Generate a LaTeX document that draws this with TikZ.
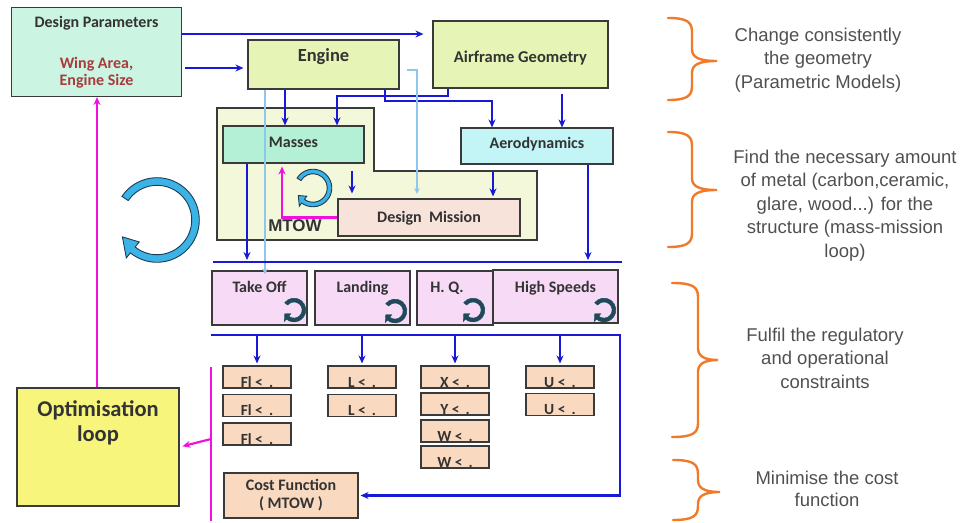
\documentclass[tikz,border=0pt]{standalone}
\usepackage{fontspec}
\setmainfont{Carlito}
\newfontfamily\arialf{Liberation Sans}
\usetikzlibrary{calc,arrows.meta}
\definecolor{bl}{HTML}{1818D8}
\definecolor{lbc}{HTML}{8EC6EE}
\definecolor{mg}{HTML}{F010E0}
\definecolor{og}{HTML}{F07A28}
\definecolor{bd}{HTML}{3A3A3A}
\definecolor{tx}{HTML}{333333}
\definecolor{rt}{HTML}{505050}
\definecolor{wr}{HTML}{A83C3C}
\definecolor{dpc}{HTML}{CBF5E2}
\definecolor{lim}{HTML}{E6F5B6}
\definecolor{msc}{HTML}{B3F0D6}
\definecolor{aec}{HTML}{C3F4F6}
\definecolor{dmc}{HTML}{F7E3DA}
\definecolor{cpc}{HTML}{F6DAF6}
\definecolor{pch}{HTML}{F9D9C0}
\definecolor{yel}{HTML}{F8F57C}
\definecolor{grn}{HTML}{F4F8DA}
\definecolor{cyb}{HTML}{3CB3E6}
\definecolor{dk}{HTML}{1E3C52}
\definecolor{tl}{HTML}{1F4A5A}
\newcommand\cycarrow[7][]{%
  \filldraw[#1] ($(#2)+({#5}:{#3+#4})$) arc[start angle={#5}, end angle={#6}, radius={#3+#4}]
   -- ($(#2)+({#6}:{#3+2.7*#4})$) -- ($(#2)+({#6+#7}:{#3})$) -- ($(#2)+({#6}:{#3-2.7*#4})$)
   -- ($(#2)+({#6}:{#3-#4})$) arc[start angle={#6}, end angle={#5}, radius={#3-#4}] -- cycle;}
\newcommand\mybrace[6]{\draw[bracestyle] (#1,#4) .. controls (#2-5,#4) and (#2,#4+4) .. (#2,#4+14) -- (#2,#5-12) .. controls (#2,#5-4) and (#2+6,#5) .. (#3,#5) .. controls (#2+6,#5) and (#2,#5+4) .. (#2,#5+12) -- (#2,#6-14) .. controls (#2,#6-4) and (#2-5,#6) .. (#1,#6);}
\begin{document}
\begin{tikzpicture}[x=1pt,y=-1pt,
  box/.style={draw=bd, line width=1.1pt, inner sep=0pt, text=tx, font=\bfseries\fontsize{16}{17}\selectfont, align=center},
  sbox/.style={box, fill=pch, minimum width=68pt, text height=21pt, text depth=1pt, font=\bfseries\fontsize{15.5}{15}\selectfont},
  cbox/.style={box, fill=cpc, text height=21pt, text depth=33pt},
  ba/.style={draw=bl, line width=2.4pt, -{Stealth[length=8pt,width=7pt]}},
  bline/.style={draw=bl, line width=2.6pt},
  lba/.style={draw=lbc, line width=2pt, -{Stealth[length=6pt,width=5.5pt]}},
  ma/.style={draw=mg, line width=2.2pt, -{Stealth[length=8pt,width=7pt]}},
  ml/.style={draw=mg, line width=2.2pt},
  bracestyle/.style={draw=og, line width=2.4pt, line cap=round},
  rtext/.style={font=\arialf\fontsize{18.5}{23.5}\selectfont, text=rt, align=center},
  bigloop/.style={fill=cyb, draw=dk, line width=0.9pt},
  tloop/.style={fill=tl, draw=tl, line width=0.4pt}]
\useasboundingbox (0,0) rectangle (966,522);
% green mass-mission region
\draw[draw=bd, fill=grn, line width=1.1pt] (217,108) -- (374,108) -- (374,171) -- (537,171) -- (537,240) -- (217,240) -- cycle;
% main boxes
\node[box, fill=dpc, minimum width=170pt, minimum height=89pt] (dp) at (96.5,52) {Design Parameters\\[24pt]{\color{wr}Wing Area,}\\{\color{wr}Engine Size}};
\node[box, fill=lim, minimum width=151pt, text height=21pt, text depth=28pt, font=\bfseries\fontsize{18.5}{18}\selectfont] (engine) at (323.5,64.5) {Engine};
\node[box, fill=lim, minimum width=175pt, text height=41pt, text depth=26pt, font=\bfseries\fontsize{16.5}{18}\selectfont] (airframe) at (520.5,54.5) {Airframe Geometry};
\node[box, fill=msc, minimum width=141pt, text height=21pt, text depth=16pt] (masses) at (293.5,144.5) {Masses};
\node[box, fill=aec, minimum width=152pt, text height=20pt, text depth=16pt] (aero) at (537,146) {Aerodynamics};
\node[box, fill=dmc, minimum width=182pt, text height=23pt, text depth=14pt] (dm) at (429,217.5) {Design\ \ Mission};
\node[font=\bfseries\arialf\fontsize{17}{17}\selectfont, text=tx] (mtow) at (295,226) {MTOW};
% constraint category boxes
\node[cbox, minimum width=95pt] (takeoff) at (259.5,298) {Take Off};
\node[cbox, minimum width=95pt] (landing) at (362.5,298) {Landing};
\node[cbox, minimum width=76pt] (hq) at (455,298) {H. Q.\hspace{16pt}};
\node[cbox, minimum width=125pt, text height=22pt, text depth=31pt] (hs) at (555.5,296.5) {High Speeds};
% small constraint boxes
\node[sbox] (c11) at (257,377) {Fl <\ \,.};
\node[sbox] (c12) at (257,405.5) {Fl <\ \,.};
\node[sbox] (c13) at (257,434) {Fl <\ \,.};
\node[sbox] (c21) at (362,377) {L <\ \,.};
\node[sbox] (c22) at (362,405.5) {L <\ \,.};
\node[sbox] (c31) at (455,377) {X <\ \,.};
\node[sbox] (c32) at (455,404) {Y <\ \,.};
\node[sbox] (c33) at (455,431) {W <\ \,.};
\node[sbox] (c34) at (455,457) {W <\ \,.};
\node[sbox] (c41) at (560,377) {U <\ \,.};
\node[sbox] (c42) at (560,404.5) {U <\ \,.};
\node[box, fill=pch, minimum width=134pt, minimum height=45pt, font=\bfseries\fontsize{16}{18}\selectfont] (cost) at (291,495.5) {Cost Function\\( MTOW )};
% optimisation loop
\node[box, fill=yel, minimum width=162pt, minimum height=118pt] (opt) at (98,447) {};
\node[font=\bfseries\fontsize{22.5}{25}\selectfont, text=tx, align=center] (optt) at (98,423) {Optimisation\\loop};
% loop icons
\cycarrow[bigloop]{157,220}{38.5}{3.8}{214}{489}{25}
\cycarrow[bigloop]{313,188}{16.5}{2.3}{212}{487}{26}
\cycarrow[tloop]{294,310}{10}{1.9}{218}{490}{28}
\cycarrow[tloop]{395,311}{10}{1.9}{218}{490}{28}
\cycarrow[tloop]{473,310}{10}{1.9}{218}{490}{28}
\cycarrow[tloop]{604,310}{10}{1.9}{218}{490}{28}
% connectors
\draw[ba, shorten >=9pt] ([yshift=18pt]dp.east) -- ([yshift=18pt]dp.east -| airframe.west);
\draw[ba, shorten <=3pt, shorten >=4pt] ([yshift=-16pt]dp.east) -- ([yshift=-16pt]dp.east -| engine.west);
\draw[ba] (engine.south -| 285,0) -- (masses.north -| 285,0);
\draw[ba] (airframe.south -| 448,0) -- (448,96) -- (337,96) -- (masses.north -| 337,0);
\draw[ba] (engine.south -| 385,0) -- (385,101) -- (492,101) -- (aero.north -| 492,0);
\draw[ba, shorten <=5pt] (airframe.south -| 562,0) -- (aero.north -| 562,0);
\draw[lba] (engine.south -| 265,0) -- ([yshift=-4pt]takeoff.north -| 265,0);
\coordinate (lbs) at (407,70);
\draw[lba] (lbs) -- (417,70) -- (417,194);
\draw[ba, shorten <=7pt, shorten >=5pt] (masses.south -| 352,0) -- (dm.north -| 352,0);
\draw[ba, shorten <=7pt, shorten >=2pt] (aero.south -| 493,0) -- (dm.north -| 493,0);
\draw[ma, shorten >=3pt] (dm.west) -- (dm.west -| 282,0) -- (masses.south -| 282,0);
\coordinate (b1w) at (213,262);
\coordinate (b1e) at (622,262);
\draw[bline] (b1w) -- (b1e);
\draw[ba, shorten >=2pt] (masses.south -| 247,0) -- (b1w -| 247,0);
\draw[ba, shorten >=2pt] (aero.south -| 588,0) -- (b1w -| 588,0);
\coordinate (b2w) at (211,335);
\coordinate (b2e) at (620,335);
\draw[ba, shorten >=2pt, line width=2.6pt] (b2w) -- (b2e) -- (b2e |- cost.east) -- (cost.east);
\foreach \c in {c11,c21,c31,c41}{\draw[ba, shorten >=2pt] (b2w -| \c.north) -- (\c.north);}
\coordinate (mt) at (211,367);
\coordinate (mb) at (211,521);
\coordinate (mm) at (211,439);
\draw[ml] (mt) -- (mb);
\draw[ma, shorten >=3pt] (mm) -- (opt.east);
\draw[ma] (opt.north -| 97,0) -- (dp.south -| 97,0);
% braces
\mybrace{668}{692}{717}{18}{61}{100}
\mybrace{668}{692}{717}{132}{190}{247}
\mybrace{672}{698}{718}{283}{360}{437}
\mybrace{673}{698}{720}{460}{492}{520}
% right texts
\node[rtext] (t1) at (818,60) {Change consistently\\the geometry\\(Parametric Models)};
\node[rtext] (t2) at (845,205.5) {Find the necessary amount\\of metal (carbon,ceramic,\\glare, wood...) for the\\structure (mass-mission\\loop)};
\node[rtext] (t3) at (825,358) {Fulfil the regulatory\\and operational\\constraints};
\node[rtext, font=\arialf\fontsize{18.5}{22}\selectfont] (t4) at (827,489) {Minimise the cost\\function};
\end{tikzpicture}
\end{document}
